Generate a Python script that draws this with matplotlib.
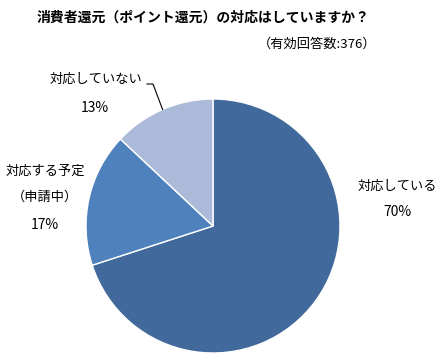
import numpy as np
import matplotlib
matplotlib.use("Agg")
import matplotlib.pyplot as plt

plt.rcParams['font.family'] = ['Noto Sans CJK JP', 'DejaVu Sans']

labels = ['対応している', '対応する予定\n\n（申請中）', '対応していない']
values = [70, 17, 13]
colors = ['#41699C', '#4F81BD', '#AABAD8']

title = '消費者還元（ポイント還元）の対応はしていますか？'
subtitle = '（有効回答数:376）'

W, H = 445, 362
fig = plt.figure(figsize=(W / 100, H / 100), dpi=100)
# pie circle: centre (213, 226) px, radius 127 px
cx, cy, r = 213, 226, 127
ax = fig.add_axes([(cx - r) / W, (H - cy - r) / H, 2 * r / W, 2 * r / H])
wedges, _ = ax.pie(values, colors=colors, startangle=90, counterclock=False,
                   wedgeprops=dict(edgecolor='white', linewidth=1))
ax.set_xlim(-1, 1)
ax.set_ylim(-1, 1)
ax.set_aspect('equal')
ax.axis('off')


def px(x, y):
    # pixel position -> data coords of the pie axes
    return (x - cx) / r, (cy - y) / r


fs = 9.5
ax.text(*px(397, 186), labels[0], ha='center', va='center', fontsize=fs, clip_on=False)
ax.text(*px(397, 212), f'{values[0]}%', ha='center', va='center', fontsize=10, clip_on=False)
ax.text(*px(45, 184), labels[1], ha='center', va='center', fontsize=fs,
        linespacing=1.0, clip_on=False)
ax.text(*px(45, 225), f'{values[1]}%', ha='center', va='center', fontsize=10, clip_on=False)
ax.text(*px(96, 79), labels[2], ha='center', va='center', fontsize=fs, clip_on=False)
ax.text(*px(95, 108), f'{values[2]}%', ha='center', va='center', fontsize=10, clip_on=False)

# leader line for the small slice
w = wedges[2]
mid = np.deg2rad((w.theta1 + w.theta2) / 2)
ex, ey = np.cos(mid), np.sin(mid)
x0, y0 = px(147, 84)
x1, y1 = px(153, 84)
ax.plot([x0, x1, ex], [y0, y1, ey], color='black', linewidth=0.8, clip_on=False)

fig.text(203 / W, 1 - 18 / H, title, ha='center', va='center', fontsize=10,
         fontweight='bold')
fig.text(317 / W, 1 - 44 / H, subtitle, ha='center', va='center', fontsize=9.5)

fig.savefig('out.png', dpi=100)
